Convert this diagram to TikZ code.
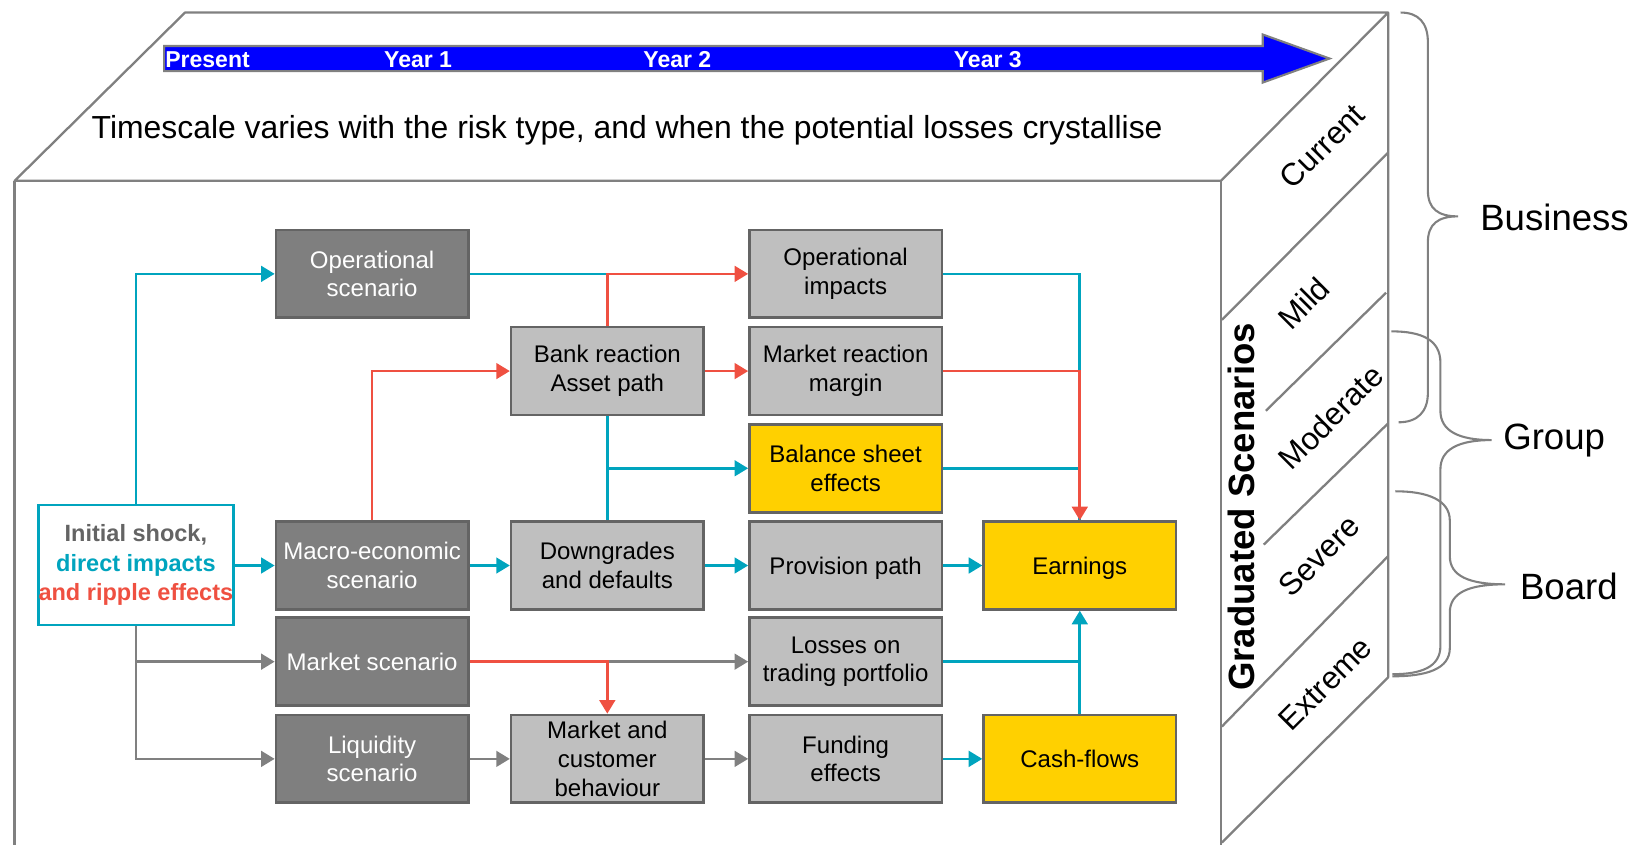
\documentclass[tikz,border=0pt]{standalone}
\usepackage{fontspec}
\setmainfont{Liberation Sans}
\usetikzlibrary{arrows.meta}

\definecolor{cubegray}{RGB}{128,128,128}
\definecolor{boxedge}{RGB}{100,100,100}
\definecolor{darkfill}{RGB}{127,127,127}
\definecolor{lightfill}{RGB}{191,191,191}
\definecolor{goldfill}{RGB}{255,208,0}
\definecolor{tealc}{RGB}{0,164,190}
\definecolor{redc}{RGB}{239,80,65}
\definecolor{shockgray}{RGB}{100,100,100}
\definecolor{barblue}{RGB}{0,0,255}

\begin{document}
\begin{tikzpicture}[x=1pt,y=-1pt,
  every node/.style={inner sep=0pt},
  frame/.style={draw=cubegray, line width=2.2pt, line join=round},
  bracepath/.style={draw=cubegray, line width=2pt},
  boxshape/.style={rectangle, minimum width=184pt, line width=2.5pt, align=center},
  % a tall invisible rule keeps lines with descenders optically centred
  toprule/.style={execute at begin node=\rule{0pt}{#1}},
  base/.style={boxshape, minimum height=84pt, draw=boxedge,
    font=\fontsize{23}{27.5}\selectfont},
  shockbox/.style={boxshape, minimum height=115pt, fill=white, draw=tealc,
    font=\fontsize{22.5}{28}\selectfont\bfseries, toprule=24pt},
  darkbox/.style={base, fill=darkfill, text=white},
  lightbox/.style={base, fill=lightfill, text=black},
  goldbox/.style={base, fill=goldfill, text=black},
  tip/.style={-{Triangle[length=13pt,width=15pt]}},
  tealln/.style={draw=tealc, line width=2.5pt},
  redln/.style={draw=redc, line width=2.5pt},
  grayln/.style={draw=cubegray, line width=2.5pt},
  scen/.style={rotate=45, font=\fontsize{30}{32}\selectfont},
  level/.style={anchor=west, font=\fontsize{35}{40}\selectfont},
  yearlbl/.style={text=white, font=\fontsize{22}{24}\selectfont\bfseries}
]
\useasboundingbox (0,0) rectangle (1568,808);

% cube outline: top face, front face edges, right face
\draw[frame] (14,173) -- (177,12) -- (1328,12) -- (1168,173) -- cycle;
\draw[frame] (14,808) -- (14,173);
\draw[frame] (1168,808) -- (1168,173);
\draw[frame] (1328,12) -- (1328,648) -- (1169,806);

% severity bands on the right face
\draw[frame] (1169,306) -- (1328,146);
\draw[frame] (1211,393) -- (1326,280);
\draw[frame] (1209,521) -- (1328,405);
\draw[frame] (1169,695) -- (1328,532);

% timeline arrow
\draw[draw=cubegray, line width=2pt, fill=barblue, line join=miter]
  (157,44) -- (1208,44) -- (1208,33) -- (1272,56) -- (1208,79) -- (1208,68) -- (157,68) -- cycle;
\node[yearlbl, anchor=west] (tpres) at (158,57) {Present};
\node[yearlbl] (ty1) at (400,57) {Year 1};
\node[yearlbl] (ty2) at (648,57) {Year 2};
\node[yearlbl] (ty3) at (945,57) {Year 3};

\node[font=\fontsize{30.5}{34}\selectfont] (tscale) at (600,125)
  {Timescale varies with the risk type, and when the potential losses crystallise};

% scenario severity labels
\node[rotate=90, font=\fontsize{35}{38}\selectfont\bfseries] (grad) at (1188,485) {Graduated Scenarios};
\node[scen] (scur) at (1265,140) {Current};
\node[scen] (smild) at (1247,290) {Mild};
\node[scen] (smod) at (1273,399) {Moderate};
\node[scen] (ssev) at (1262,532) {Severe};
\node[scen] (sext) at (1268,654) {Extreme};

% governance braces
\draw[bracepath] (1340,12) .. controls (1357,12) and (1366,22) .. (1366,40)
  -- (1366,182) .. controls (1366,200) and (1376,207) .. (1395,207)
  .. controls (1376,207) and (1366,214) .. (1366,232)
  -- (1366,376) .. controls (1366,394) and (1356,404) .. (1338,404);
\draw[bracepath] (1331,317) .. controls (1360,317) and (1378,325) .. (1378,347)
  -- (1378,393) .. controls (1378,412) and (1395,421) .. (1427,421)
  .. controls (1395,421) and (1378,430) .. (1378,449)
  -- (1378,618) .. controls (1378,638) and (1360,645) .. (1332,645);
\draw[bracepath] (1335,470) .. controls (1365,470) and (1387,478) .. (1387,498)
  -- (1387,532) .. controls (1387,551) and (1405,559) .. (1440,559)
  .. controls (1405,559) and (1387,567) .. (1387,586)
  -- (1387,620) .. controls (1387,640) and (1365,647) .. (1332,647);
\node[level] (lbus) at (1416,208) {Business};
\node[level] (lgrp) at (1438,421) {Group};
\node[level] (lbrd) at (1454,561) {Board};

% flow boxes
\node[shockbox] (init) at (130,540.5)
  {\textcolor{shockgray}{Initial shock,}\\\textcolor{tealc}{direct impacts}\\\textcolor{redc}{and ripple effects}};

\node[darkbox] (opsc) at (356,262) {Operational\\scenario};
\node[darkbox] (macro) at (356,541) {Macro-economic\\scenario};
\node[darkbox] (mktsc) at (356,633) {Market scenario};
\node[darkbox] (liq) at (356,726) {Liquidity\\scenario};

\node[lightbox, toprule=22.3pt] (bank) at (581,355) {Bank reaction\\Asset path};
\node[lightbox] (down) at (581,541) {Downgrades\\and defaults};
\node[lightbox] (mcb) at (581,726) {Market and\\customer\\behaviour};

\node[lightbox, toprule=22.3pt] (opimp) at (809,262) {Operational\\impacts};
\node[lightbox, toprule=22.3pt] (mkre) at (809,355) {Market reaction\\margin};
\node[goldbox] (bal) at (809,448) {Balance sheet\\effects};
\node[lightbox, toprule=21.3pt] (prov) at (809,541) {Provision path};
\node[lightbox, toprule=22.3pt] (loss) at (809,633) {Losses on\\trading portfolio};
\node[lightbox] (fund) at (809,726) {Funding\\effects};

\node[goldbox, toprule=21.3pt] (earn) at (1033,541) {Earnings};
\node[goldbox] (cash) at (1033,726) {Cash-flows};

% direct impacts
\draw[tealln, tip] (init.north) |- (opsc.west);
\draw[tealln, tip] (init.east |- macro.west) -- (macro.west);
\draw[tealln] (opsc.east) -- (opsc.east -| bank.north);
\draw[tealln] (opimp.east) -| (earn.north);
\draw[tealln] (bal.east) -- (bal.east -| earn.north);
\draw[tealln] (bank.south) -- (down.north);
\draw[tealln, tip] (bank.south |- bal.west) -- (bal.west);
\draw[tealln, tip] (macro.east) -- (down.west);
\draw[tealln, tip] (down.east) -- (prov.west);
\draw[tealln, tip] (prov.east) -- (earn.west);
\draw[tealln] (loss.east) -- (loss.east -| earn.south);
\draw[tealln, tip] (cash.north) -- (earn.south);
\draw[tealln, tip] (fund.east) -- (cash.west);

% other channels
\draw[grayln, tip] (init.south) |- (liq.west);
\draw[grayln, tip] (init.south |- mktsc.west) -- (mktsc.west);
\draw[grayln, tip] (mktsc.east) -- (loss.west);
\draw[grayln, tip] (liq.east) -- (mcb.west);
\draw[grayln, tip] (mcb.east) -- (fund.west);

% ripple effects
\draw[redln, tip] (bank.north) |- (opimp.west);
\draw[redln, tip] (macro.north) |- (bank.west);
\draw[redln, tip] (bank.east) -- (mkre.west);
\draw[redln, tip] (mkre.east) -| (earn.north);
\draw[redln, tip] (mktsc.east) -| (mcb.north);
\end{tikzpicture}
\end{document}
